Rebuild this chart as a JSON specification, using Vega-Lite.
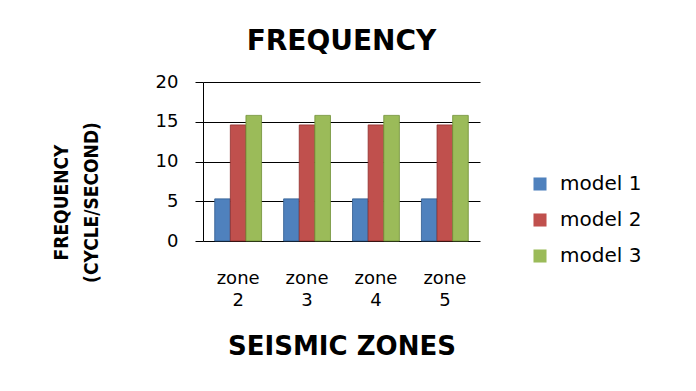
{
  "$schema": "https://vega.github.io/schema/vega-lite/v6.json",
  "autosize": {"type": "none"},
  "width": 277,
  "height": 159,
  "padding": {"left": 203, "top": 82, "right": 216, "bottom": 150},
  "background": "white",
  "title": {
    "text": "FREQUENCY",
    "font": "DejaVu Sans",
    "fontSize": 28,
    "fontWeight": "bold",
    "color": "black",
    "offset": 17,
    "anchor": "middle"
  },
  "data": {
    "values": [
      {"zone": "zone 2", "model": "model 1", "freq": 5.3},
      {"zone": "zone 2", "model": "model 2", "freq": 14.6},
      {"zone": "zone 2", "model": "model 3", "freq": 15.8},
      {"zone": "zone 3", "model": "model 1", "freq": 5.3},
      {"zone": "zone 3", "model": "model 2", "freq": 14.6},
      {"zone": "zone 3", "model": "model 3", "freq": 15.8},
      {"zone": "zone 4", "model": "model 1", "freq": 5.3},
      {"zone": "zone 4", "model": "model 2", "freq": 14.6},
      {"zone": "zone 4", "model": "model 3", "freq": 15.8},
      {"zone": "zone 5", "model": "model 1", "freq": 5.3},
      {"zone": "zone 5", "model": "model 2", "freq": 14.6},
      {"zone": "zone 5", "model": "model 3", "freq": 15.8}
    ]
  },
  "mark": {"type": "bar", "strokeWidth": 0.8},
  "encoding": {
    "x": {
      "field": "zone",
      "type": "nominal",
      "scale": {"paddingInner": 0.32, "paddingOuter": 0.17},
      "axis": {
        "title": "SEISMIC ZONES",
        "titleFont": "DejaVu Sans",
        "titleFontSize": 26,
        "titleFontWeight": "bold",
        "titleColor": "black",
        "titlePadding": 24,
        "labelAngle": 0,
        "labelExpr": "split(datum.label, ' ')",
        "labelFont": "DejaVu Sans",
        "labelFontSize": 18,
        "labelColor": "black",
        "labelLineHeight": 22,
        "labelPadding": 28,
        "ticks": false,
        "domain": false,
        "grid": false
      }
    },
    "xOffset": {"field": "model", "type": "nominal", "scale": {"paddingInner": 0}},
    "y": {
      "field": "freq",
      "type": "quantitative",
      "scale": {"domain": [0, 20]},
      "axis": {
        "values": [0, 5, 10, 15, 20],
        "title": ["FREQUENCY", "(CYCLE/SECOND)"],
        "titleFont": "DejaVu Sans Condensed, Roboto Condensed, Liberation Sans, sans-serif",
        "titleFontSize": 19,
        "titleFontWeight": "bold",
        "titleColor": "black",
        "titleLineHeight": 30,
        "titlePadding": 54,
        "titleY": 120,
        "labelFont": "DejaVu Sans",
        "labelFontSize": 18,
        "labelColor": "black",
        "labelPadding": 17,
        "tickSize": 8,
        "tickColor": "black",
        "grid": true,
        "gridColor": "black",
        "gridWidth": 1,
        "domainColor": "black"
      }
    },
    "color": {
      "field": "model",
      "type": "nominal",
      "scale": {"domain": ["model 1", "model 2", "model 3"], "range": ["#4F81BD", "#C0504D", "#9BBB59"]},
      "legend": {
        "title": null,
        "orient": "none",
        "legendX": 327,
        "legendY": 92,
        "symbolType": "square",
        "symbolSize": 170,
        "symbolStrokeWidth": 0,
        "labelFont": "DejaVu Sans",
        "labelFontSize": 20,
        "labelColor": "black",
        "rowPadding": 16,
        "labelOffset": 10
      }
    },
    "stroke": {
      "field": "model",
      "type": "nominal",
      "scale": {"domain": ["model 1", "model 2", "model 3"], "range": ["#2F5B8F", "#8F2F2C", "#6F8F35"]},
      "legend": null
    }
  },
  "config": {"view": {"stroke": null}}
}
